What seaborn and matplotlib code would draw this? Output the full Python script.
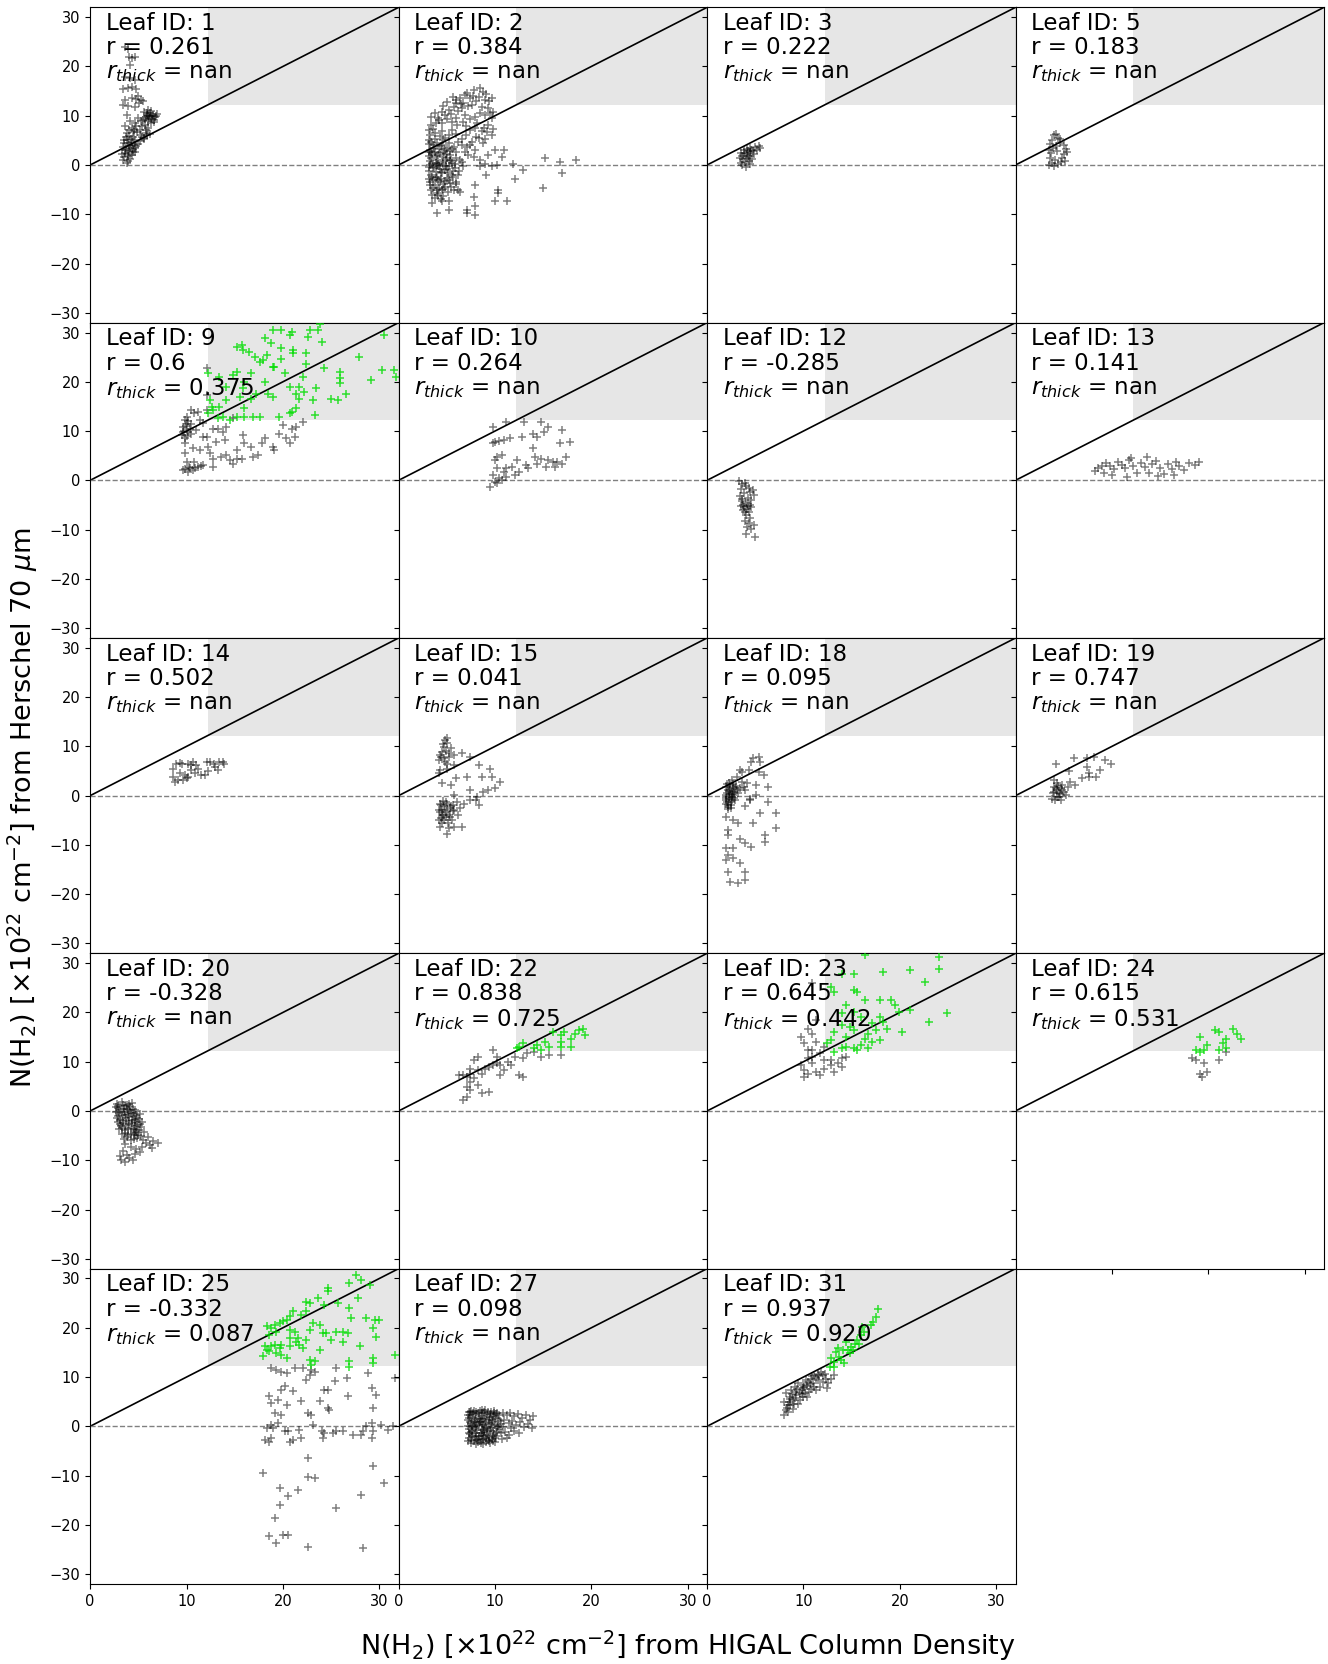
import matplotlib
matplotlib.use("Agg")
import matplotlib.pyplot as plt
import seaborn as sns
import numpy as np

# panel labels
leaf_ids = [1, 2, 3, 5, 9, 10, 12, 13, 14, 15, 18, 19, 20, 22, 23, 24, 25, 27, 31]
r_vals = ["0.261", "0.384", "0.222", "0.183", "0.6", "0.264", "-0.285", "0.141", "0.502", "0.041",
          "0.095", "0.747", "-0.328", "0.838", "0.645", "0.615", "-0.332", "0.098", "0.937"]
r_thick = ["nan", "nan", "nan", "nan", "0.375", "nan", "nan", "nan", "nan", "nan",
           "nan", "nan", "nan", "0.725", "0.442", "0.531", "0.087", "nan", "0.920"]

thick_lim = 12.2

# (x, y) points; gray = all pixels, green = optically thick ones
leaf1_gray = [(3.6, 24.0), (3.9, 23.5), (4.0, 22.0), (4.3, 21.8), (4.6, 22.0), (4.1, 20.3), (3.6, 17.9),
              (4.1, 17.6), (4.6, 17.2), (3.4, 15.4), (3.9, 15.6), (4.3, 15.8), (4.8, 15.4), (5.0, 14.0),
              (3.6, 13.2), (4.3, 13.5), (4.8, 13.3), (5.3, 13.2), (3.4, 12.2), (3.9, 12.0), (4.6, 11.8),
              (5.1, 12.5), (5.5, 13.0), (5.6, 10.8), (5.9, 10.5), (6.2, 10.6), (6.5, 10.2), (6.8, 10.0),
              (5.8, 9.8), (6.1, 9.5), (6.4, 9.3), (6.7, 9.8), (5.5, 9.2), (6.0, 8.9), (6.3, 8.6),
              (5.7, 8.2), (6.6, 8.8), (6.9, 10.3), (5.9, 10.1), (6.2, 9.9), (6.0, 11.2), (3.8, 10.2),
              (4.1, 9.0), (3.6, 8.0), (4.3, 7.6), (4.8, 7.9), (5.2, 7.2), (4.5, 6.6), (3.8, 6.4),
              (5.3, 6.0), (5.8, 6.5), (6.0, 7.5), (6.2, 6.2), (4.0, 7.2), (4.6, 8.6), (5.0, 9.5),
              (5.4, 8.0), (4.4, 5.7), (5.6, 5.4), (3.8, 5.1), (4.3, 4.6), (3.4, 3.7), (4.1, 3.5),
              (4.8, 3.8), (4.6, 2.6), (3.6, 2.4), (3.9, 1.8), (3.4, 1.0), (3.8, 0.4), (4.3, 2.0),
              (5.2, 4.8), (5.6, 5.2), (5.9, 6.0), (3.5, 4.4), (4.0, 4.1), (3.6, 3.0), (4.4, 3.1),
              (5.0, 4.2), (3.3, 2.2), (4.0, 2.8), (4.5, 4.0), (3.7, 5.6), (4.2, 5.3), (3.9, 0.9), (4.7, 5.0),
              (3.5, 5.0), (3.9, 4.4), (4.2, 3.9), (3.7, 3.3), (4.4, 2.6), (3.9, 2.2), (3.5, 1.6), (4.1, 1.2),
              (4.7, 3.4), (5.4, 5.7), (5.8, 7.0), (4.9, 6.6), (6.4, 9.9), (6.0, 10.0), (5.7, 9.4), (6.6, 9.2),
              (6.3, 10.9), (5.3, 9.0), (4.5, 7.1), (4.0, 5.8)]
leaf1_green = []

leaf2_gray = [(7.8, 15.2), (8.4, 15.6), (9.1, 14.5), (6.9, 14.2), (7.4, 13.5), (8.3, 13.9), (9.0, 13.2),
              (9.7, 13.5), (6.0, 13.2), (6.7, 12.5), (5.7, 11.8), (6.6, 11.5), (7.6, 12.2), (8.6, 11.8),
              (9.3, 11.5), (9.8, 10.8), (3.8, 10.5), (4.5, 10.8), (5.2, 11.2), (3.4, 9.8), (4.1, 9.5),
              (4.8, 10.2), (6.9, 10.2), (7.9, 9.8), (9.0, 10.2), (9.7, 9.5), (3.4, 8.1), (4.5, 8.5),
              (5.5, 8.8), (6.7, 8.8), (8.1, 8.5), (9.3, 8.1), (9.8, 7.4), (3.6, 7.4), (4.5, 6.8),
              (5.5, 7.1), (7.4, 7.1), (8.6, 6.8), (9.7, 6.1), (8.3, 5.4), (7.6, 4.7), (8.8, 4.4),
              (7.9, 3.0), (7.1, 3.7), (10.0, 3.0), (10.9, 3.0), (10.7, 1.7), (9.3, 2.0), (8.4, 1.0),
              (7.8, 1.7), (9.0, 0.3), (8.4, -0.3), (9.7, -0.3), (10.2, 0.0), (9.1, -2.0), (11.9, 0.3),
              (12.9, -1.0), (12.1, -2.8), (15.2, 1.4), (16.7, 0.7), (18.4, 1.0), (16.9, -1.7),
              (15.0, -4.7), (10.3, -5.1), (10.3, -5.7), (7.9, -4.1), (7.8, -6.4), (10.0, -7.4),
              (11.2, -7.4), (7.9, -8.4), (7.1, -9.1), (7.9, -10.1), (7.1, -9.8), (5.2, -7.4),
              (5.2, -9.1), (4.5, -7.4), (4.0, -9.8), (6.4, -5.4),
              (3.3, 6.1), (3.8, 6.4), (4.3, 5.8), (4.8, 5.4), (3.4, 4.7), (4.0, 4.4), (4.5, 4.1),
              (5.2, 4.4), (5.7, 3.7), (3.3, 3.0), (3.8, 2.7), (4.3, 2.4), (4.8, 3.0), (5.3, 2.0),
              (5.9, 2.7), (3.4, 1.4), (4.0, 1.0), (4.5, 0.7), (5.0, 1.4), (5.5, 0.5), (3.3, 0.0),
              (3.7, -0.7), (4.2, -0.3), (4.8, -1.0), (5.2, -0.3), (5.8, -0.7), (3.4, -2.0), (4.0, -2.4),
              (4.5, -1.7), (5.0, -2.7), (5.5, -2.0), (3.3, -3.4), (3.8, -4.1), (4.3, -3.4), (4.8, -4.4),
              (5.3, -3.7), (3.4, -5.1), (4.0, -5.7), (4.5, -5.1), (5.1, -5.4), (5.7, -5.1), (6.2, -5.1),
              (6.2, 4.7), (6.6, 4.1), (6.9, 2.7), (7.2, 2.0), (6.4, 1.0), (6.7, -0.3), (6.2, -2.0),
              (6.0, -3.4), (4.1, -6.1), (3.6, -4.7),
              (3.1, 5.0), (3.6, 4.0), (4.2, 3.3), (4.9, 2.2), (3.2, 1.9), (3.9, 1.8), (4.6, 1.6),
              (5.4, 1.1), (3.5, 0.4), (4.1, 0.2), (4.9, -0.2), (5.6, -1.3), (3.2, -1.2), (3.9, -1.4),
              (4.4, -2.9), (5.2, -3.1), (3.6, -3.0), (4.2, -4.6), (3.5, -6.0), (4.6, -6.3), (5.0, -0.9),
              (3.8, 5.2), (4.6, 5.0), (5.5, 3.2), (6.0, 1.5), (3.4, 2.6), (4.3, -0.8), (4.7, -3.8),
              (3.9, -2.6), (5.6, -2.5),
              (4.6, 12.0), (5.0, 12.8), (5.9, 12.6), (6.4, 13.6), (7.1, 14.6), (7.7, 14.1), (8.8, 14.8),
              (9.4, 13.0), (8.0, 12.9), (7.2, 12.0), (6.2, 11.0), (5.4, 10.3), (4.2, 9.1), (5.0, 9.3),
              (5.9, 9.6), (7.4, 9.3), (8.4, 10.5), (9.5, 10.6), (6.1, 8.2), (7.0, 8.0), (7.9, 7.6),
              (8.9, 7.6), (9.2, 6.6), (7.0, 6.0), (6.0, 6.2), (5.2, 6.0), (6.6, 5.2), (7.4, 4.0),
              (8.0, 5.6), (9.0, 5.2), (3.2, 7.0), (3.9, 8.6), (5.6, 13.9), (6.5, 12.3),
              (3.2, 4.2), (3.7, 3.5), (4.4, 3.8), (5.0, 3.4), (3.5, 2.2), (4.1, 2.1), (4.7, 2.6),
              (5.3, 2.8), (3.3, 0.8), (3.9, 0.5), (4.6, 0.2), (5.3, 0.9), (3.6, -0.4), (4.4, -1.4),
              (5.1, -1.7), (3.5, -2.5), (4.1, -3.1), (4.8, -3.3), (3.3, -4.0), (4.0, -5.0), (4.6, -4.9),
              (5.4, -4.5), (3.8, -6.6), (4.4, -7.0), (3.5, -7.8), (3.2, -0.5), (4.9, 1.0), (4.0, -0.1),
              (5.8, 0.2), (6.3, -1.3), (6.6, 0.6), (5.9, -3.8), (3.1, 2.7), (3.1, -2.8)]
leaf2_green = []

leaf3_gray = [(3.5, 2.5), (3.8, 3.0), (4.1, 3.3), (4.5, 3.5), (5.0, 3.6), (5.4, 3.8), (3.6, 1.8), (4.0, 2.2),
              (4.4, 2.6), (4.8, 2.9), (5.2, 3.1), (3.7, 1.2), (4.1, 1.5), (4.5, 1.9), (4.9, 2.3), (3.9, 0.6),
              (4.3, 0.9), (4.7, 1.2), (3.6, 0.0), (4.0, -0.4), (4.4, 0.2), (3.4, 1.4), (4.2, 2.8), (4.6, 3.1),
              (3.8, 2.4), (4.2, 1.9), (5.5, 3.4), (3.5, 0.5)]
leaf3_green = []

leaf5_gray = [(4.0, 6.0), (4.4, 5.5), (3.8, 5.0), (4.6, 4.5), (5.0, 4.0), (3.6, 4.2), (3.9, 3.5), (5.2, 3.2),
              (4.3, 2.8), (3.7, 2.4), (5.0, 2.2), (3.6, 1.5), (4.8, 1.5), (4.1, 1.0), (3.8, 0.5), (4.4, 0.2),
              (5.1, 0.8), (3.5, 0.0), (4.0, -0.3), (4.7, 0.6), (5.3, 2.6), (4.2, 3.9), (3.5, 3.0), (4.6, 5.2),
              (4.2, 6.3)]
leaf5_green = []

leaf9_gray = [(9.8, 12.2), (10.0, 12.9), (9.6, 10.9), (9.5, 9.2), (9.8, 8.5), (10.2, 9.9), (10.5, 11.5),
              (10.8, 13.6), (11.2, 13.9), (11.4, 12.2), (12.1, 14.3), (12.1, 17.3), (12.1, 22.7), (9.8, 7.5),
              (9.8, 5.5), (10.0, 3.8), (9.6, 2.1), (10.2, 1.7), (10.7, 2.1), (11.2, 2.8), (11.7, 3.1),
              (10.5, 9.5), (10.7, 6.5), (11.4, 6.1), (12.1, 8.8), (12.2, 6.8), (12.4, 5.5), (12.7, 4.4),
              (12.7, 2.8), (13.1, 7.8), (13.3, 10.5), (13.8, 9.9), (14.0, 8.2), (14.1, 10.9), (14.1, 5.1),
              (13.6, 4.8), (14.5, 4.1), (14.8, 3.4), (15.2, 4.4), (15.2, 6.1), (15.7, 4.4), (16.0, 7.5),
              (15.9, 9.2), (16.7, 6.8), (16.9, 4.8), (17.4, 5.1), (17.8, 7.5), (18.1, 8.5), (19.0, 6.8),
              (19.1, 6.1), (19.6, 9.5), (20.0, 11.2), (20.3, 8.5), (20.7, 7.5), (20.9, 10.5), (21.2, 8.8),
              (21.4, 10.9), (22.1, 11.9), (11.0, 10.2), (11.7, 11.6), (12.7, 10.5), (14.8, 12.6),
              (10.8, 3.8), (10.3, 2.8), (11.7, 8.8), (10.5, 14.3), (10.0, 11.5), (9.7, 10.0), (9.9, 11.0),
              (10.2, 12.0), (9.6, 9.8), (10.4, 10.5), (10.0, 9.0), (9.8, 2.3), (10.4, 2.4), (10.9, 2.6),
              (11.5, 2.9)]
leaf9_green = [(12.2, 21.7), (12.4, 16.3), (12.6, 14.9), (12.2, 13.6), (12.7, 14.3), (13.3, 12.6), (13.4, 14.9),
               (14.1, 19.0), (14.1, 16.3), (14.8, 21.4), (15.2, 27.1), (15.7, 27.4), (15.9, 26.4), (15.2, 22.0),
               (15.5, 16.9), (15.9, 18.7), (16.0, 14.6), (16.5, 26.1), (16.7, 21.7), (17.1, 25.1), (17.2, 17.6),
               (17.6, 24.1), (17.9, 24.4), (18.3, 25.4), (18.1, 28.8), (19.0, 30.5), (19.8, 30.5), (18.8, 27.8),
               (18.1, 20.0), (18.4, 17.6), (19.0, 16.9), (19.1, 23.0), (19.8, 26.8), (19.8, 24.7), (20.2, 21.7),
               (20.7, 29.5), (20.9, 30.1), (21.0, 26.4), (21.0, 25.8), (20.7, 19.0), (21.4, 17.6), (21.7, 16.6),
               (22.2, 18.0), (22.4, 25.8), (22.4, 23.7), (22.6, 29.1), (22.8, 30.5), (23.6, 30.5), (23.8, 31.8),
               (24.1, 28.1), (24.3, 22.7), (22.1, 21.0), (23.1, 16.3), (20.9, 13.9), (19.6, 12.9), (20.7, 13.6),
               (21.4, 14.6), (23.3, 13.2), (25.0, 16.6), (25.9, 22.0), (25.9, 20.7), (25.9, 19.7), (25.7, 16.3),
               (26.5, 17.6), (27.9, 25.1), (29.1, 20.3), (30.3, 22.4), (30.5, 29.5), (31.5, 22.4), (31.7, 21.0),
               (16.9, 12.9), (17.6, 12.9), (16.0, 12.9), (15.2, 12.9), (14.5, 12.2), (13.8, 12.9), (16.0, 20.0),
               (16.7, 16.6), (19.0, 23.0), (21.7, 19.0), (23.4, 18.7), (13.4, 21.0)]

leaf10_gray = [(9.75, 10.9), (11.1, 11.9), (13.0, 11.9), (14.8, 11.9), (15.5, 10.9), (16.9, 10.2), (9.75, 7.5),
               (10.0, 7.8), (10.4, 8.0), (10.9, 8.2), (11.6, 8.5), (12.8, 8.8), (13.9, 9.5), (14.4, 8.8),
               (15.1, 9.9), (16.7, 7.5), (17.8, 7.8), (17.4, 4.8), (13.9, 6.5), (14.1, 4.8), (14.8, 4.4),
               (15.5, 4.1), (16.0, 3.8), (16.4, 3.8), (16.9, 3.4), (10.2, 4.8), (10.7, 5.1), (10.0, 4.1),
               (12.3, 4.1), (11.8, 2.8), (13.2, 3.1), (13.4, 2.4), (12.5, 1.7), (12.1, 1.1), (11.1, 2.4),
               (10.9, 1.7), (10.2, 2.4), (9.75, 1.1), (10.4, 0.4), (10.0, -0.3), (10.7, 0.1), (9.5, -1.3),
               (10.2, -0.6), (11.1, 0.7), (14.4, 3.4), (15.3, 2.8), (16.2, 2.8)]
leaf10_green = []

leaf12_gray = [(3.3, -0.2), (3.6, -0.8), (4.0, -1.2), (4.3, -1.6), (3.5, -1.8), (4.5, -2.4), (3.8, -2.6),
               (4.9, -3.0), (3.4, -3.2), (4.2, -3.6), (4.6, -4.0), (3.6, -4.3), (4.0, -4.6), (4.4, -5.0),
               (3.5, -5.2), (3.8, -5.5), (4.1, -5.8), (3.7, -6.1), (4.3, -6.4), (4.6, -5.5), (4.0, -7.0),
               (4.5, -7.6), (3.9, -8.2), (4.3, -8.6), (4.9, -9.0), (4.1, -9.5), (4.6, -9.8), (4.0, -10.8),
               (5.0, -11.6), (3.6, -3.8), (3.9, -0.5), (4.8, -2.0), (3.7, -5.0), (4.2, -5.3), (3.9, -6.5)]
leaf12_green = []

leaf13_gray = [(8.2, 1.8), (8.6, 2.4), (9.0, 2.9), (9.4, 3.5), (9.8, 3.0), (10.2, 2.2), (10.6, 3.8), (11.0, 3.2),
               (11.4, 2.5), (11.8, 4.2), (12.2, 3.0), (12.6, 1.5), (13.0, 3.6), (13.4, 2.8), (13.8, 1.4),
               (14.2, 3.3), (14.6, 4.0), (15.0, 2.6), (15.4, 1.2), (15.8, 3.4), (16.2, 2.2), (16.6, 3.8),
               (17.0, 3.0), (17.5, 2.0), (18.0, 3.5), (18.6, 3.2), (19.0, 3.7), (10.0, 1.0), (11.6, 0.6),
               (9.2, 1.5), (12.0, 4.6), (13.6, 4.8), (16.4, 1.0), (14.8, 0.8)]
leaf13_green = []

leaf14_gray = [(8.6, 5.5), (8.6, 3.8), (8.8, 2.8), (9.1, 3.2), (9.3, 4.5), (8.9, 6.5), (9.3, 6.7), (9.5, 6.5),
               (9.8, 4.2), (10.2, 3.8), (10.5, 5.2), (10.7, 6.9), (10.5, 6.2), (10.9, 4.5), (11.2, 5.5),
               (11.5, 4.2), (11.9, 4.2), (12.2, 4.9), (12.1, 6.9), (12.4, 6.9), (12.8, 6.5), (12.9, 5.9),
               (13.3, 5.2), (13.4, 6.9), (13.8, 6.9), (13.9, 6.5), (9.6, 3.2), (10.0, 3.5), (11.0, 6.2),
               (10.2, 6.5)]
leaf14_green = []

leaf15_gray = [(4.85, 11.3), (5.0, 10.6), (4.7, 9.9), (5.4, 9.6), (4.5, 8.9), (4.3, 8.2), (4.2, 7.2), (4.7, 7.6),
               (5.2, 7.9), (5.7, 8.2), (5.0, 6.5), (4.3, 5.2), (4.2, 4.5), (5.0, 5.5), (5.7, 6.2), (6.6, 8.6),
               (7.4, 7.9), (8.3, 6.2), (9.5, 5.5), (8.6, 3.8), (9.7, 3.8), (10.55, 2.8), (10.0, 1.5), (9.3, 1.1),
               (8.8, 0.8), (8.1, -0.2), (7.4, -0.9), (6.75, -1.6), (6.1, -1.2), (5.7, 0.1), (5.4, 2.1),
               (4.5, 2.5), (5.9, 3.5), (7.1, 3.8), (7.4, 1.1), (8.0, -0.9), (8.3, -1.9), (6.4, -2.6),
               (5.7, -2.9), (5.2, -3.9), (4.7, -5.0), (4.3, -6.3), (5.0, -7.7), (5.7, -6.3), (6.6, -6.3),
               (4.3, -1.6), (4.2, -2.9), (4.5, -3.9), (5.4, -2.2), (5.0, -1.6), (5.5, -5.0), (4.2, -5.0),
               (4.7, -2.2), (6.2, -3.9), (4.5, -3.0), (4.9, -4.3), (5.3, -2.6), (4.4, -4.6), (5.1, -5.6),
               (4.6, -1.0), (5.6, -1.8), (4.9, 9.0), (4.6, 10.4), (5.2, 8.6), (4.4, 7.8), (5.0, 11.8),
               (4.8, 6.8), (4.4, -2.0), (4.8, -2.9), (5.0, -3.4), (4.6, -4.0), (5.3, -4.4), (4.3, -3.3),
               (5.6, -3.1), (4.9, -1.3), (4.5, -5.5), (5.2, -6.6)]
leaf15_green = []

leaf18_gray = [(2.0, -4.3), (2.7, -5.0), (3.2, -5.6), (2.2, -7.0), (2.2, -8.0), (3.4, -8.7), (3.9, -9.7),
               (4.6, -10.4), (4.8, -5.6), (5.5, -3.6), (6.0, -8.0), (6.0, -9.4), (7.2, -3.6), (7.2, -6.6),
               (6.35, -1.2), (6.35, 1.8), (5.1, 2.1), (4.45, -0.6), (3.9, -2.2), (3.9, 1.1), (4.1, 2.5),
               (3.6, 4.8), (3.4, 5.2), (4.3, 5.2), (4.6, 6.9), (4.8, 7.6), (5.4, 7.8), (5.5, 6.9), (5.4, 4.8),
               (5.9, 4.2), (5.1, 0.1), (4.45, -0.9), (3.1, 3.8), (3.6, 2.8), (2.55, 3.2), (3.8, 1.8),
               (2.0, -10.7), (2.7, -10.7), (2.2, -12.1), (2.0, -13.1), (2.7, -12.7), (3.4, -13.7),
               (2.2, -15.4), (3.9, -15.4), (3.9, -17.1), (2.4, -17.5), (3.2, -17.8),
               (2.0, 1.8), (2.2, 1.1), (2.4, 2.1), (2.55, 0.8), (2.0, 0.1), (2.3, -0.6), (2.55, -0.9),
               (2.0, -1.6), (2.2, -2.3), (2.45, -1.9), (2.7, 0.1), (2.9, 1.5), (2.0, -0.9), (2.65, 1.8),
               (3.1, 1.1), (3.2, 0.5), (3.4, 1.5), (2.1, 0.5), (2.3, -0.2), (2.5, -1.3), (2.2, -2.8),
               (2.6, 0.3), (2.4, 1.4), (2.1, -1.2), (2.8, -0.4), (2.3, 2.6), (2.7, 2.4),
               (2.1, 2.3), (2.4, 0.3), (2.0, -0.4), (2.6, -0.2), (2.3, 0.9), (2.8, 0.8), (2.2, -1.8),
               (2.5, -2.6), (2.9, -0.9), (3.0, 2.0)]
leaf18_green = []

leaf19_gray = [(4.2, 6.5), (6.05, 7.6), (7.4, 7.6), (8.1, 7.9), (9.3, 7.2), (9.85, 6.5), (8.8, 5.2), (7.4, 5.9),
               (5.5, 4.9), (7.6, 4.5), (6.9, 3.5), (7.6, 3.8), (8.3, 3.8), (5.7, 2.8), (6.2, 2.1), (5.4, 1.8),
               (5.0, 0.8), (4.3, 2.5), (4.0, 1.8), (4.0, 0.8), (4.5, -0.2), (4.1, -0.9), (4.7, -0.9), (5.2, 0.1),
               (4.7, 1.5), (4.3, 1.1), (4.85, 2.1), (3.8, -0.6), (4.0, 3.2), (4.2, 1.5), (4.5, 0.6), (4.8, 1.2),
               (4.4, 2.0), (4.6, 0.3), (3.9, 0.5), (4.3, -0.3)]
leaf19_green = []

leaf20_gray = [(2.8, 1.5), (3.3, 1.8), (3.8, 1.2), (4.3, 1.6), (2.9, 0.6), (3.5, 0.4), (4.1, 0.8), (4.6, 0.2),
               (3.0, -0.5), (3.6, -0.8), (4.2, -0.4), (4.8, -0.9), (2.8, -1.5), (3.4, -1.8), (4.0, -1.3),
               (4.6, -1.9), (5.1, -1.6), (3.1, -2.6), (3.7, -2.9), (4.3, -2.4), (4.9, -2.8), (5.4, -2.3),
               (3.0, -3.6), (3.6, -3.9), (4.2, -3.4), (4.8, -3.8), (5.3, -3.3), (3.3, -4.6), (3.9, -4.9),
               (4.5, -4.4), (5.0, -4.8), (5.6, -4.2), (3.5, -5.6), (4.2, -5.9), (4.9, -5.5), (5.5, -5.8),
               (2.7, -0.2), (3.2, -3.1), (4.4, -1.1), (3.9, -2.0), (4.6, -3.1), (5.2, -0.6), (3.6, 1.0),
               (2.9, -2.2), (4.0, 0.1), (4.7, -4.8), (6.0, -5.2), (6.5, -6.0), (7.0, -6.4), (6.2, -7.0),
               (5.8, -6.6), (3.6, -6.8), (4.2, -7.4), (3.4, -8.2), (4.8, -7.8), (5.4, -7.4), (3.8, -9.0),
               (4.6, -8.8), (3.2, -10.0), (3.6, -10.4), (4.4, -10.0), (4.0, -9.6), (5.2, -8.4), (6.4, -7.6),
               (3.1, -9.2),
               (2.9, 1.0), (3.4, 1.3), (4.0, 1.5), (3.1, 0.1), (3.8, 0.3), (4.4, 0.5), (2.9, -1.0), (3.3, -0.9),
               (3.9, -0.6), (4.5, -0.5), (3.1, -1.8), (3.7, -1.4), (4.3, -1.8), (4.9, -1.4), (3.4, -2.4),
               (4.0, -2.6), (4.6, -2.3), (5.2, -2.6), (3.3, -3.4), (3.9, -3.7), (4.5, -3.6), (5.1, -3.9),
               (3.6, -4.4), (4.2, -4.7), (4.8, -4.2), (5.3, -5.1), (3.8, -5.3), (4.5, -5.6), (2.7, 0.9),
               (3.5, -0.2)]
leaf20_green = []

leaf22_gray = [(6.65, 7.3), (7.05, 6.9), (7.4, 7.6), (8.2, 8.3), (9.0, 8.6), (9.4, 9.0), (9.8, 9.3), (10.2, 9.65),
               (10.5, 9.3), (8.6, 7.6), (7.8, 6.6), (7.4, 5.9), (7.05, 4.9), (7.4, 4.2), (8.2, 5.3), (8.6, 3.6),
               (6.65, 2.2), (7.05, 2.9), (9.4, 3.9), (7.8, 10.3), (8.2, 11.0), (9.8, 12.4), (10.2, 11.0),
               (11.3, 10.0), (12.1, 11.0), (12.9, 10.7), (13.3, 11.7), (14.05, 12.0), (14.8, 11.0),
               (15.6, 11.3), (16.8, 11.3), (12.5, 7.3), (12.9, 6.9), (10.5, 7.3), (10.9, 8.3), (11.7, 9.3),
               (7.4, 8.6), (6.3, 7.3)]
leaf22_green = [(12.5, 13.0), (12.9, 13.7), (12.3, 12.7), (14.05, 12.7), (14.4, 13.4), (15.6, 13.0), (15.2, 14.0),
                (16.8, 15.4), (16.8, 14.0), (16.8, 13.0), (17.2, 16.1), (17.9, 14.7), (18.3, 15.7), (18.7, 16.4),
                (19.1, 16.7), (19.35, 15.4), (17.9, 13.0), (16.0, 16.1), (14.8, 12.4)]

leaf23_gray = [(10.9, 25.9), (11.3, 18.4), (10.5, 16.7), (10.9, 15.7), (9.7, 15.1), (10.1, 13.7), (10.5, 12.4),
               (10.9, 11.0), (11.7, 11.7), (9.7, 9.3), (10.1, 8.3), (10.5, 7.6), (11.3, 7.9), (12.1, 8.6),
               (12.85, 9.3), (13.6, 9.65), (14.0, 10.7), (14.4, 11.0), (12.1, 10.3), (10.9, 9.65), (10.5, 10.7),
               (12.1, 13.0), (11.3, 14.0), (10.1, 6.95), (11.7, 7.3), (12.85, 10.3), (13.2, 7.9), (14.0, 9.0),
               (10.9, 12.4)]
leaf23_green = [(16.35, 31.6), (24.1, 31.3), (24.1, 28.9), (18.3, 28.2), (21.0, 28.6), (22.6, 26.2), (14.0, 27.9),
                (15.2, 27.9), (12.85, 25.2), (13.2, 24.2), (15.2, 24.5), (15.6, 24.2), (16.35, 22.5), (17.9, 22.5),
                (19.1, 22.5), (19.5, 21.5), (19.9, 20.1), (21.0, 20.5), (24.9, 19.8), (23.0, 18.1), (14.4, 21.5),
                (14.0, 19.8), (15.2, 20.1), (16.0, 19.1), (17.9, 19.1), (18.3, 18.1), (17.5, 16.4), (16.7, 15.7),
                (16.35, 14.7), (17.1, 14.0), (16.7, 12.7), (15.6, 12.4), (14.0, 12.7), (13.2, 12.0), (12.85, 14.4),
                (14.4, 15.1), (15.2, 16.4), (14.8, 17.1), (14.0, 17.4), (13.2, 16.1), (12.45, 13.7), (20.2, 16.1),
                (18.7, 16.7), (17.1, 17.8), (17.9, 14.4), (16.0, 13.4), (15.2, 12.7), (14.4, 13.0)]

leaf24_gray = [(18.7, 10.3), (19.5, 9.65), (19.1, 7.6), (19.9, 8.0), (19.35, 6.95), (21.1, 10.3), (21.85, 12.0),
               (18.3, 10.7)]
leaf24_green = [(19.1, 15.1), (19.5, 12.4), (18.7, 12.4), (19.9, 13.4), (20.7, 16.4), (21.1, 16.1), (21.5, 13.7),
                (21.85, 14.7), (21.85, 12.7), (22.6, 16.7), (23.0, 15.7), (23.4, 14.7), (19.1, 12.0), (21.1, 12.4)]

leaf25_gray = [(18.8, 11.8), (19.3, 11.5), (19.8, 11.1), (20.4, 10.8), (21.2, 11.9), (22.1, 11.8), (22.8, 10.5),
               (22.4, 9.4), (22.9, 11.5), (23.3, 11.1), (25.4, 9.1), (26.6, 9.8), (28.8, 10.8), (24.3, 7.4),
               (24.7, 7.4), (26.7, 6.1), (29.2, 7.75), (29.7, 6.4), (18.6, 6.1), (18.8, 4.7), (19.5, 5.4),
               (20.4, 4.4), (20.2, 8.1), (19.8, 7.4), (21.0, 7.1), (21.9, 5.1), (23.8, 5.1), (24.7, 3.7),
               (24.8, 3.4), (29.3, 3.7), (19.2, 2.7), (19.8, 2.3), (22.6, 2.7), (22.9, 2.3), (18.8, 0.3),
               (19.0, -0.4), (19.5, 0.7), (18.3, -0.4), (18.1, -2.7), (18.5, -3.1), (18.8, -2.4), (20.2, -1.0),
               (20.5, -1.0), (20.7, -3.1), (21.0, -2.7), (21.7, -0.7), (21.9, -2.4), (23.1, 0.3), (24.0, -1.0),
               (24.2, -2.4), (24.3, -1.4), (25.2, -1.4), (25.5, -1.0), (26.2, -1.0), (27.3, -1.7), (28.1, -1.7),
               (28.3, -1.0), (28.6, 0.0), (29.2, 0.65), (29.3, -1.0), (29.2, -2.4), (30.2, 0.3), (30.9, -0.7),
               (31.4, 0.0), (22.6, -6.4), (17.9, -9.5), (22.6, -10.2), (23.3, -10.5), (21.6, -12.9),
               (19.7, -12.5), (20.5, -14.2), (19.7, -15.9), (19.2, -18.6), (18.5, -22.3), (19.3, -23.7),
               (20.0, -22.0), (20.5, -22.0), (22.6, -24.4), (25.5, -16.5), (28.1, -13.9), (29.3, -8.1),
               (30.5, -11.5), (28.3, -24.6), (25.5, 11.8), (31.6, 9.8)]
leaf25_green = [(27.6, 30.7), (28.1, 29.7), (29.0, 28.7), (27.8, 26.0), (26.9, 29.1), (24.7, 28.0), (24.7, 27.4),
                (23.6, 26.0), (22.4, 25.3), (22.8, 25.0), (25.7, 25.0), (24.3, 24.7), (26.9, 24.0), (28.6, 22.0),
                (30.0, 21.6), (29.5, 21.6), (27.1, 22.0), (21.0, 23.3), (20.7, 22.3), (20.4, 21.6), (22.4, 23.3),
                (21.9, 22.6), (20.0, 21.3), (19.7, 20.9), (19.2, 20.6), (18.3, 20.3), (18.8, 19.9), (19.3, 19.2),
                (18.5, 18.6), (20.7, 19.6), (21.2, 19.2), (23.1, 20.9), (23.8, 20.6), (22.8, 19.6), (24.5, 18.9),
                (25.5, 19.2), (26.2, 19.2), (26.7, 18.9), (29.3, 19.9), (29.7, 18.2), (20.7, 17.9), (21.6, 17.9),
                (22.4, 17.6), (21.4, 17.2), (25.0, 17.6), (26.2, 17.2), (28.0, 16.2), (23.8, 15.5), (22.1, 15.9),
                (20.7, 16.2), (19.8, 16.5), (18.8, 16.2), (18.1, 16.2), (18.3, 15.5), (18.6, 15.2), (17.9, 14.2),
                (19.3, 14.9), (19.8, 14.5), (20.4, 13.8), (22.8, 13.5), (23.3, 13.2), (22.9, 12.5), (26.9, 13.2),
                (26.9, 12.1), (29.3, 13.8), (29.3, 12.8), (31.6, 14.5), (19.7, 15.9), (24.2, 18.9), (21.7, 16.5),
                (19.2, 16.5)]

leaf27_gray = [(7.3, 3.0), (7.8, 3.2), (8.4, 3.1), (9.0, 3.3), (9.6, 3.0), (10.2, 2.8), (7.4, 2.2), (8.0, 2.4),
               (8.6, 2.0), (9.2, 2.5), (9.8, 2.1), (10.4, 2.3), (7.2, 1.3), (7.9, 1.5), (8.5, 1.1), (9.1, 1.6),
               (9.7, 1.2), (10.3, 1.4), (7.5, 0.4), (8.1, 0.6), (8.8, 0.2), (9.4, 0.7), (10.0, 0.3), (10.6, 0.5),
               (7.3, -0.5), (7.9, -0.3), (8.6, -0.8), (9.2, -0.4), (9.8, -0.9), (10.4, -0.6), (7.4, -1.5),
               (8.0, -1.3), (8.7, -1.7), (9.3, -1.2), (9.9, -1.6), (7.3, -2.4), (7.9, -2.2), (8.5, -2.7),
               (9.1, -2.3), (9.7, -2.5), (7.5, -3.3), (8.2, -3.1), (8.8, -3.5), (9.4, -3.0), (10.0, -3.2),
               (7.7, 2.7), (8.3, -2.0), (9.5, 1.9), (8.9, -1.0), (7.6, -0.9), (10.1, -1.9), (8.4, 0.9), (9.9, 2.6),
               (10.8, 2.8), (11.2, 2.2), (11.6, 2.6), (12.0, 2.0), (12.4, 2.5), (12.8, 1.6), (13.2, 2.2),
               (13.6, 1.2), (13.9, 2.0), (10.9, 1.2), (11.4, 0.6), (11.8, 1.0), (12.2, 0.2), (12.6, 0.9),
               (13.0, -0.2), (13.4, 0.5), (13.8, -0.4), (11.0, -1.2), (11.5, -1.8), (12.0, -1.0), (12.5, -1.4),
               (11.2, -2.4), (10.8, -0.2), (11.7, -0.3),
               (7.4, 2.9), (8.0, 2.9), (8.7, 2.7), (9.3, 2.9), (9.9, 3.1), (7.6, 1.8), (8.3, 1.7), (8.9, 1.4),
               (9.4, 1.3), (10.0, 1.7), (7.4, 0.9), (8.0, 0.1), (8.6, 0.5), (9.1, -0.1), (9.6, 0.4), (10.2, -0.2),
               (7.5, -1.1), (8.1, -0.7), (8.8, -1.3), (9.5, -0.7), (10.2, -1.2), (7.6, -2.0), (8.3, -2.5),
               (8.9, -2.0), (9.4, -2.2), (10.0, -2.4), (7.8, -3.0), (8.5, -3.3), (9.1, -3.1), (9.8, -2.9),
               (7.2, -2.9), (7.2, 0.0), (7.2, 2.3), (10.5, 1.0), (10.6, -1.4), (10.7, -2.6), (8.6, 3.3),
               (9.5, -3.4), (8.0, -3.5), (7.7, -0.2),
               (7.5, 3.1), (8.2, 2.6), (8.9, 3.0), (9.5, 2.4), (10.1, 2.4), (7.3, 1.7), (7.8, 1.1), (8.4, 1.4),
               (9.0, 0.9), (9.8, 0.8), (7.6, 0.1), (8.3, 0.2), (8.9, -0.5), (9.6, -0.3), (10.3, 0.1), (7.3, -1.3),
               (8.0, -1.9), (8.5, -1.4), (9.2, -1.7), (9.8, -2.0), (7.5, -2.7), (8.1, -2.8), (8.8, -2.6),
               (9.3, -2.7), (7.9, 0.8)]
leaf27_green = []

leaf31_gray = [(8.0, 2.3), (8.2, 3.3), (8.4, 4.3), (8.0, 5.0), (8.6, 6.0), (8.2, 6.7), (8.7, 7.3), (9.1, 8.0),
               (9.4, 8.7), (8.9, 5.3), (9.2, 6.3), (9.8, 7.3), (10.1, 8.0), (10.5, 9.0), (10.8, 9.7), (11.1, 10.4),
               (11.5, 10.7), (11.8, 11.1), (12.2, 10.7), (12.0, 9.0), (11.7, 8.0), (12.5, 8.7), (12.9, 9.7),
               (13.2, 10.4), (11.1, 8.0), (10.6, 7.0), (9.9, 6.0), (9.4, 4.6), (8.9, 3.6), (10.3, 9.4), (11.0, 8.7),
               (11.5, 9.4), (8.4, 2.9), (9.6, 6.7), (11.3, 7.3), (12.4, 7.7), (10.4, 6.0), (9.1, 5.7), (8.6, 4.3),
               (8.3, 3.8), (8.5, 5.0), (8.8, 6.6), (9.0, 4.6), (9.3, 7.6), (9.6, 5.4), (9.9, 8.4), (10.2, 6.8),
               (10.4, 8.1), (10.7, 8.6), (10.9, 10.2), (11.3, 9.9), (11.6, 10.2), (12.0, 10.4), (12.3, 9.6),
               (9.8, 6.5), (10.0, 7.7), (10.8, 7.6), (8.6, 5.5), (9.2, 7.0)]
leaf31_green = [(17.7, 23.9), (17.5, 22.2), (17.2, 21.2), (17.0, 20.5), (16.1, 20.2), (16.3, 19.2), (16.0, 18.5),
                (15.6, 17.5), (15.3, 16.8), (14.9, 16.1), (15.1, 15.5), (14.6, 15.5), (14.4, 17.1), (14.1, 15.5),
                (13.7, 14.1), (13.4, 15.1), (13.9, 13.4), (14.2, 12.8), (13.2, 13.1), (12.9, 13.8), (12.7, 12.1),
                (13.2, 12.1), (15.8, 16.8), (14.8, 14.8), (13.6, 15.8)]

gray_sets = [leaf1_gray, leaf2_gray, leaf3_gray, leaf5_gray, leaf9_gray, leaf10_gray, leaf12_gray, leaf13_gray,
             leaf14_gray, leaf15_gray, leaf18_gray, leaf19_gray, leaf20_gray, leaf22_gray, leaf23_gray,
             leaf24_gray, leaf25_gray, leaf27_gray, leaf31_gray]
green_sets = [leaf1_green, leaf2_green, leaf3_green, leaf5_green, leaf9_green, leaf10_green, leaf12_green,
              leaf13_green, leaf14_green, leaf15_green, leaf18_green, leaf19_green, leaf20_green, leaf22_green,
              leaf23_green, leaf24_green, leaf25_green, leaf27_green, leaf31_green]

lim = 32

fig, axes = plt.subplots(5, 4, figsize=(13.28, 16.64), dpi=100, sharex=True, sharey=True)
plt.subplots_adjust(left=0.0679, right=0.997, top=0.9956, bottom=0.0481, wspace=0, hspace=0)
axes = axes.flatten()

for i, ax in enumerate(axes):
    if i >= len(leaf_ids):
        fig.delaxes(ax)
        continue
    ax.fill_between([thick_lim, lim], thick_lim, lim, color='0.9', lw=0, zorder=0)
    ax.plot([0, lim], [0, lim], color='k', lw=1.2, zorder=1)
    ax.axhline(0, color='gray', ls='--', lw=1, zorder=1)

    g = np.array(gray_sets[i])
    sns.scatterplot(x=g[:, 0], y=g[:, 1], marker='+', color='k', alpha=0.5, s=40,
                    linewidth=1.1, ax=ax, legend=False, zorder=2)
    if len(green_sets[i]) > 0:
        t = np.array(green_sets[i])
        sns.scatterplot(x=t[:, 0], y=t[:, 1], marker='+', color='#00dd00', alpha=0.8, s=40,
                        linewidth=1.1, ax=ax, legend=False, zorder=3)

    txt = "Leaf ID: %d\nr = %s\n$r_{thick}$ = %s" % (leaf_ids[i], r_vals[i], r_thick[i])
    ax.text(0.05, 0.985, txt, transform=ax.transAxes, va='top', ha='left', fontsize=16.5,
            linespacing=1.07, zorder=5)

    ax.set_xlim(0, lim)
    ax.set_ylim(-lim, lim)
    ax.set_xticks([0, 10, 20, 30])
    ax.set_yticks([-30, -20, -10, 0, 10, 20, 30])
    ax.tick_params(labelsize=10.5)

fig.text(0.518, 0.011, r"N(H$_2$) [$\times10^{22}$ cm$^{-2}$] from HIGAL Column Density",
         ha='center', va='center', fontsize=19.5)
fig.text(0.017, 0.515, r"N(H$_2$) [$\times10^{22}$ cm$^{-2}$] from Herschel 70 $\mu$m",
         ha='center', va='center', rotation=90, fontsize=19.5)

plt.savefig("out.png", dpi=100)
